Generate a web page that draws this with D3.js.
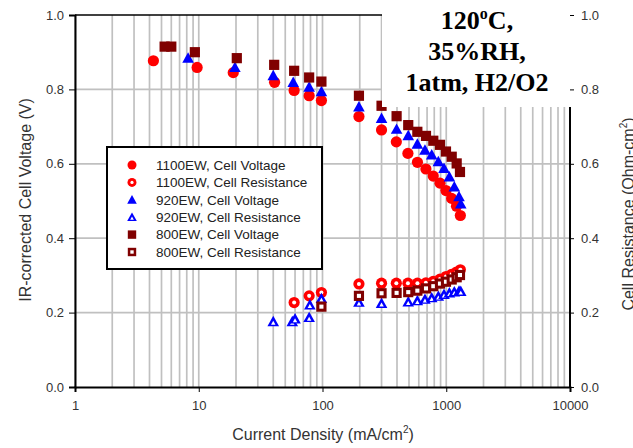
<!DOCTYPE html>
<html>
<head>
<meta charset="utf-8">
<script src="https://cdn.jsdelivr.net/npm/d3@7"></script>
<style>
  body { margin: 0; background: #fff; }
  text { font-family: Arial, "Liberation Sans", sans-serif; }
</style>
</head>
<body>
<svg id="chart" width="633" height="448"></svg>
<script>
// current density (mA/cm2) and values
var ew1100VoltJ = [4.3, 9.7, 19, 41, 59, 78, 98, 197, 300, 395, 490, 585, 685, 785, 890, 995, 1105, 1210, 1300];
var ew1100Volt  = [0.877, 0.859, 0.845, 0.819, 0.797, 0.783, 0.770, 0.727, 0.691, 0.659, 0.628, 0.604, 0.586, 0.567, 0.548, 0.528, 0.507, 0.486, 0.461];
var ew1100ResJ  = [59, 78, 98, 197, 300, 395, 490, 585, 685, 785, 890, 995, 1105, 1210, 1300];
var ew1100Res   = [0.227, 0.245, 0.254, 0.277, 0.279, 0.279, 0.279, 0.279, 0.280, 0.284, 0.290, 0.297, 0.303, 0.309, 0.315];

var ew920VoltJ = [8.2, 19.6, 40, 58, 78, 98, 197, 300, 397, 493, 584, 673, 763, 863, 959, 1060, 1162, 1268, 1310];
var ew920Volt  = [0.884, 0.859, 0.837, 0.819, 0.806, 0.794, 0.753, 0.722, 0.693, 0.676, 0.653, 0.637, 0.624, 0.606, 0.588, 0.565, 0.538, 0.512, 0.492];
var ew920ResJ  = [40, 57, 60, 78, 79, 98, 197, 300, 493, 584, 673, 763, 863, 959, 1060, 1162, 1268, 1310];
var ew920Res   = [0.176, 0.176, 0.183, 0.187, 0.221, 0.238, 0.228, 0.225, 0.229, 0.232, 0.236, 0.240, 0.244, 0.249, 0.253, 0.256, 0.258, 0.257];

var ew800VoltJ = [5.3, 6.0, 9.3, 20.3, 40.7, 59, 78, 98, 197, 300, 397, 493, 584, 686, 786, 890, 995, 1107, 1214, 1291];
var ew800Volt  = [0.915, 0.915, 0.900, 0.884, 0.866, 0.850, 0.832, 0.821, 0.783, 0.756, 0.728, 0.704, 0.686, 0.675, 0.662, 0.651, 0.633, 0.619, 0.601, 0.578];
var ew800ResJ  = [98, 197, 300, 397, 493, 584, 686, 786, 890, 995, 1107, 1214, 1291];
var ew800Res   = [0.216, 0.245, 0.252, 0.253, 0.255, 0.259, 0.265, 0.271, 0.278, 0.283, 0.289, 0.295, 0.301];

var legendLabels = ["1100EW, Cell Voltage", "1100EW, Cell Resistance", "920EW, Cell Voltage",
                    "920EW, Cell Resistance", "800EW, Cell Voltage", "800EW, Cell Resistance"];
var xTicks = [1, 10, 100, 1000, 10000];
var yTicks = [0, 0.2, 0.4, 0.6, 0.8, 1.0];
var noteLines = ["35%RH,", "1atm, H2/O2"];

var series = [
  {j: ew1100VoltJ, v: ew1100Volt, shape: "circle", filled: true,  color: "#ff0000"},
  {j: ew1100ResJ,  v: ew1100Res,  shape: "circle", filled: false, color: "#ff0000"},
  {j: ew920VoltJ,  v: ew920Volt,  shape: "tri",    filled: true,  color: "#0000ff"},
  {j: ew920ResJ,   v: ew920Res,   shape: "tri",    filled: false, color: "#0000ff"},
  {j: ew800VoltJ,  v: ew800Volt,  shape: "square", filled: true,  color: "#800000"},
  {j: ew800ResJ,   v: ew800Res,   shape: "square", filled: false, color: "#800000"}
];

var svg = d3.select('#chart');
var pl = 75, pr = 570, pt = 15, pb = 387;

var x = d3.scaleLog().domain([1, 10000]).range([pl, pr]);
var y = d3.scaleLinear().domain([0, 1]).range([pb, pt]);
var yR = d3.scaleLinear().domain([0, 1]).range([pb, pt]);

// grid
var gridX = [];
for (var k = 0; k < 4; k++) for (var m = 1; m < 10; m++) gridX.push(m * Math.pow(10, k));
svg.append('g').selectAll('line').data(gridX).enter().append('line')
  .attr('x1', d => x(d)).attr('x2', d => x(d))
  .attr('y1', pt).attr('y2', pb)
  .attr('stroke', '#c0c0c0').attr('stroke-width', 1.7);
svg.append('g').selectAll('line').data([0.2, 0.4, 0.6, 0.8]).enter().append('line')
  .attr('x1', pl).attr('x2', pr)
  .attr('y1', d => y(d)).attr('y2', d => y(d))
  .attr('stroke', '#c0c0c0').attr('stroke-width', 1.7);

// frame
svg.append('line').attr('x1', pl).attr('x2', pr).attr('y1', pt).attr('y2', pt)
  .attr('stroke', '#000').attr('stroke-width', 1.5);
svg.append('line').attr('x1', pr).attr('x2', pr).attr('y1', pt).attr('y2', pb)
  .attr('stroke', '#000').attr('stroke-width', 2);

// left axis
var gl = svg.append('g').attr('transform', `translate(${pl},0)`)
  .call(d3.axisLeft(y).tickValues(yTicks).tickFormat(d3.format('.1f')).tickSize(6).tickPadding(5));
gl.select('.domain').attr('stroke-width', 2);
gl.selectAll('text').attr('font-size', 13).attr('fill', '#333').attr('font-family', 'Arial, Liberation Sans');

// bottom axis
var gb = svg.append('g').attr('transform', `translate(0,${pb})`)
  .call(d3.axisBottom(x).tickValues(xTicks).tickFormat(d3.format('d')).tickSize(5).tickPadding(9));
gb.select('.domain').attr('stroke-width', 2);
gb.selectAll('text').attr('font-size', 13).attr('fill', '#333').attr('font-family', 'Arial, Liberation Sans');

// markers
function triPath(s) {
  return `M0,${-s}L${s},${s * 0.8}L${-s},${s * 0.8}Z`;
}
function marker(g, shape, filled, color, s) {
  if (shape === 'circle') {
    g.append('circle').attr('r', s).attr('fill', color);
    if (!filled) g.append('circle').attr('r', s * 0.36).attr('fill', '#fff');
  } else if (shape === 'tri') {
    g.append('path').attr('d', triPath(s)).attr('fill', color);
    if (!filled) g.append('path').attr('d', triPath(s * 0.38)).attr('transform', `translate(0,${s * 0.25})`).attr('fill', '#fff');
  } else {
    g.append('rect').attr('x', -s).attr('y', -s).attr('width', 2 * s).attr('height', 2 * s).attr('fill', color);
    if (!filled) g.append('rect').attr('x', -s * 0.4).attr('y', -s * 0.4).attr('width', s * 0.8).attr('height', s * 0.8).attr('fill', '#fff');
  }
}
var sizes = {circle: 5.6, tri: 5.8, square: 5.1};

series.forEach(function (se) {
  var pts = se.j.map((d, i) => [d, se.v[i]]);
  svg.append('g').selectAll('g').data(pts).enter().append('g')
    .attr('transform', d => `translate(${x(d[0])},${se.filled ? y(d[1]) : yR(d[1])})`)
    .each(function () { marker(d3.select(this), se.shape, se.filled, se.color, sizes[se.shape]); });
});

// note box over the top right corner
svg.append('rect').attr('x', 382).attr('y', 0).attr('width', 251).attr('height', 107).attr('fill', '#fff');
var note = svg.append('text').attr('text-anchor', 'middle')
  .style('font-family', '"Liberation Serif", "Times New Roman", serif')
  .attr('font-weight', 'bold').attr('font-size', 26).attr('fill', '#000');
var l1 = note.append('tspan').attr('x', 477).attr('y', 29);
l1.append('tspan').text('120');
l1.append('tspan').attr('font-size', 16).attr('dy', -10).text('o');
l1.append('tspan').attr('dy', 10).text('C,');
noteLines.forEach(function (t, i) {
  note.append('tspan').attr('x', 477).attr('y', 60 + 31 * i).text(t);
});

// right axis (line hidden under the note box, ticks shown over it)
var gr = svg.append('g').attr('transform', `translate(${pr},0)`)
  .call(d3.axisRight(yR).tickValues(yTicks).tickFormat(d3.format('.1f')).tickSize(4).tickPadding(7));
gr.select('.domain').remove();
gr.selectAll('text').attr('font-size', 13).attr('fill', '#333').attr('font-family', 'Arial, Liberation Sans');

// legend
var lg = svg.append('g');
lg.append('rect').attr('x', 107).attr('y', 147).attr('width', 215).attr('height', 122)
  .attr('fill', '#fff').attr('stroke', '#000').attr('stroke-width', 2);
var lsizes = {circle: 4.5, tri: 4.8, square: 4.2};
series.forEach(function (se, i) {
  var yy = 165 + i * 17.4;
  var mg = lg.append('g').attr('transform', `translate(132,${yy})`);
  marker(mg, se.shape, se.filled, se.color, lsizes[se.shape]);
  lg.append('text').attr('x', 156).attr('y', yy).attr('dy', '0.36em')
    .attr('font-size', 13.5).attr('fill', '#222').text(legendLabels[i]);
});

// axis titles
svg.append('text').attr('transform', 'translate(31,200) rotate(-90)')
  .attr('text-anchor', 'middle').attr('font-size', 16).attr('fill', '#333')
  .text('IR-corrected Cell Voltage (V)');
var rt = svg.append('text').attr('transform', 'translate(634,214) rotate(-90)')
  .attr('text-anchor', 'middle').attr('font-size', 16).attr('fill', '#333');
rt.append('tspan').text('Cell Resistance (Ohm-cm');
rt.append('tspan').attr('font-size', 10).attr('dy', -7).text('2');
rt.append('tspan').attr('dy', 7).text(')');
var xt = svg.append('text').attr('x', 323).attr('y', 440)
  .attr('text-anchor', 'middle').attr('font-size', 16).attr('fill', '#333');
xt.append('tspan').text('Current Density (mA/cm');
xt.append('tspan').attr('font-size', 10).attr('dy', -7).text('2');
xt.append('tspan').attr('dy', 7).text(')');
</script>
</body>
</html>
